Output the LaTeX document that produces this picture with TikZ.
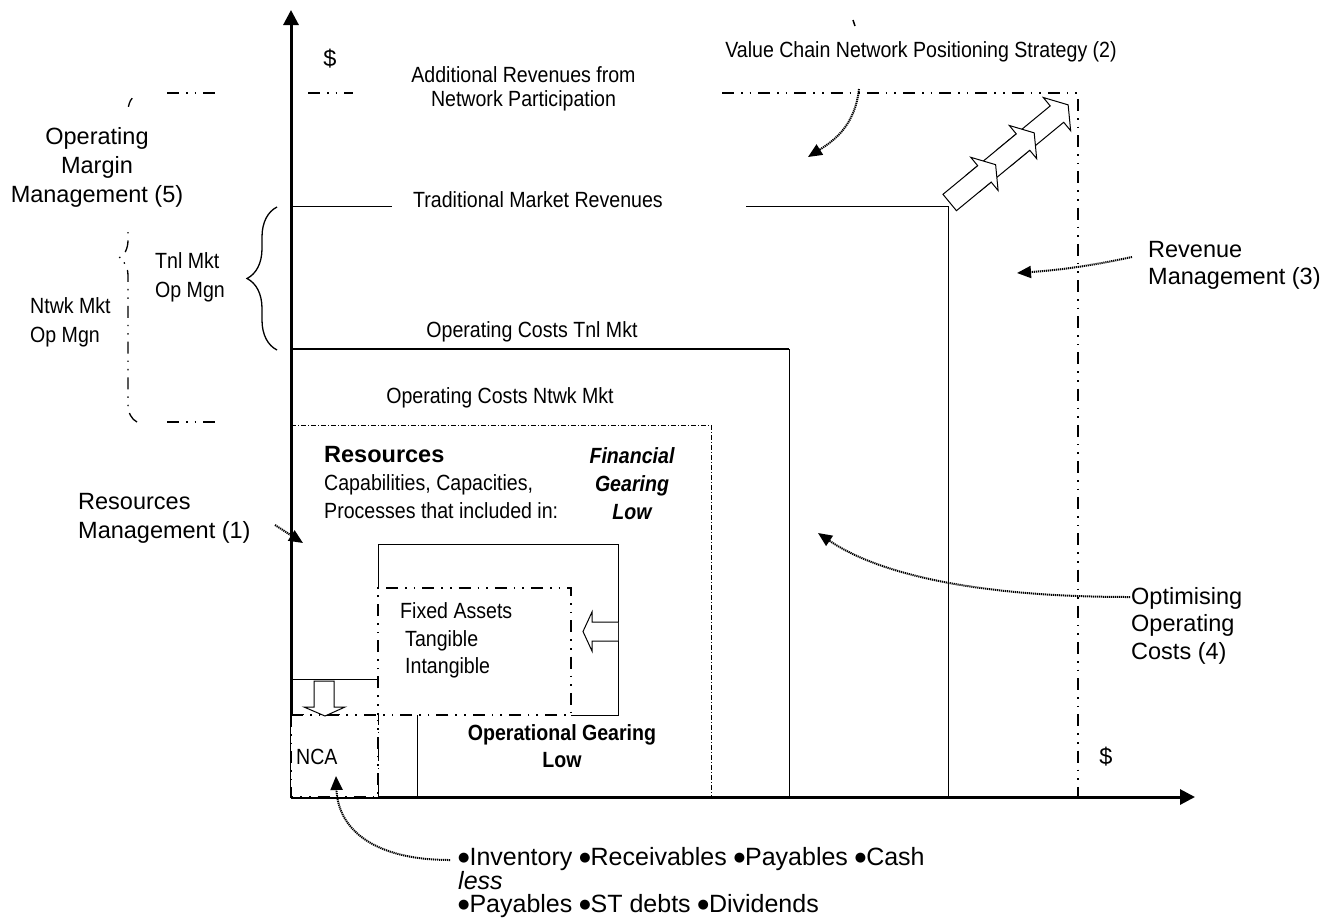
\documentclass[tikz,border=0pt]{standalone}
\usepackage{fontspec}
\setmainfont{Liberation Sans}
\newfontfamily\narrowfont[FakeStretch=0.89]{Liberation Sans}
\newfontfamily\bulletfont{DejaVu Sans}
\usetikzlibrary{arrows.meta,decorations.pathreplacing}

\newcommand{\bul}{\raisebox{4pt}{\bulletfont\fontsize{13}{13}\selectfont ●}}

\tikzset{
  regtext/.style={font=\fontsize{23.5}{29}\selectfont, inner sep=0pt},
  nartext/.style={font=\narrowfont\fontsize{22}{28}\selectfont, inner sep=0pt},
  listtext/.style={font=\fontsize{25}{25}\selectfont, inner sep=0pt, anchor=base west},
  axisline/.style={line width=3pt, -{Triangle[length=15pt,width=15pt]}},
  thinline/.style={line width=1pt},
  boldline/.style={line width=2pt},
  dashdotdot/.style={line width=2pt, dash pattern=on 12pt off 7pt on 1.6pt off 7pt on 1.6pt off 7pt},
  bracedash/.style={line width=1.3pt, dash pattern=on 12pt off 7pt on 1.4pt off 7pt on 1.4pt off 7pt},
  finedashdot/.style={line width=0.8pt, dash pattern=on 5pt off 2pt on 1pt off 2pt},
  dottedarrow/.style={line width=2pt, dash pattern=on 1.2pt off 0.8pt, -{Triangle[length=14pt,width=12pt]}},
  hollowarrow/.style={draw, line width=1pt, fill=white, line join=miter},
}

\begin{document}
\begin{tikzpicture}[x=1pt,y=-1pt]
\useasboundingbox (0,0) rectangle (1335,919);
\fill[white] (0,0) rectangle (1335,919);

% ---- key points ----
\coordinate (O) at (291,797);
\coordinate (ytop) at (291,10);
\coordinate (xend) at (1195,797);

% ---- network revenue frame (dash-dot) ----
\draw[dashdotdot] (722,93) -- (1078,93) -- (1078,797);
\draw[dashdotdot] (308,93) -- (353,93);
\draw[dashdotdot] (167,93) -- (221,93);
\draw[dashdotdot] (167,422) -- (221,422);
\draw[line width=1.5pt] (853,20) -- (855,26);

% ---- traditional market revenues ----
\draw[thinline] (291,206) -- (392,206);
\draw[thinline] (746,206) -- (948,206) -- (948,797);

% ---- operating costs, traditional market ----
\draw[boldline] (291,349) -- (789,349);
\draw[thinline] (789,349) -- (789,797);

% ---- operating costs, network market ----
\draw[finedashdot] (291,425) -- (711,425) -- (711,797);

% ---- resources block ----
\draw[thinline] (378,588) -- (378,544) -- (618,544) -- (618,715) -- (571,715);
\draw[dashdotdot] (378,797) -- (378,588) -- (571,588) -- (571,715) -- (291,715);
\draw[thinline] (417,715) -- (417,797);
\draw[thinline] (291,679) -- (378,679);

% ---- axes ----
\draw[axisline] (O) -- (ytop);
\draw[axisline] (O) -- (xend);

% ---- net current assets box ----
\draw[dashdotdot, fill=white] (291,715) rectangle (378,797);

% ---- hollow block arrows ----
\draw[hollowarrow] (618,622) -- (592,622) -- (592,612) -- (583,631.5) -- (592,651) -- (592,641) -- (618,641);
\draw[hollowarrow] (314,681) -- (334,681) -- (334,707) -- (345,707) -- (325,716) -- (304,707) -- (314,707) -- cycle;

% ---- chained growth arrow ----
\begin{scope}[shift={(949.7,202.5)}, rotate=39.5]
  \draw[hollowarrow] (70,-10.6) -- (139,-10.6) -- (139,-21.5) -- (153.5,0) -- (139,21.5) -- (139,10.6) -- (70,10.6) -- cycle;
  \draw[hollowarrow] (30,-10.6) -- (95,-10.6) -- (95,-21.5) -- (109.5,0) -- (95,21.5) -- (95,10.6) -- (30,10.6) -- cycle;
  \draw[hollowarrow] (0,-10.6) -- (45,-10.6) -- (45,-21.5) -- (59.5,0) -- (45,21.5) -- (45,10.6) -- (0,10.6) -- cycle;
\end{scope}

% ---- braces ----
\draw[line width=1.3pt, decorate, decoration={brace, amplitude=30pt}] (277,350) -- (277,207);
\draw[bracedash, decorate, decoration={brace, amplitude=18pt}] (137,422) -- (137,94);

% ---- labels ----
\node[regtext] (dollarTop) at (330,59) {\$};
\node[regtext] (dollarBot) at (1106,757) {\$};
\node[nartext, align=center, font=\narrowfont\fontsize{22}{24}\selectfont] (addRev) at (523.5,88.5) {Additional Revenues from\\Network Participation};
\node[nartext] (valueChain) at (921,52) {Value Chain Network Positioning Strategy (2)};
\node[nartext] (tradRev) at (538,200) {Traditional Market Revenues};
\node[nartext] (opTnl) at (532,332) {Operating Costs Tnl Mkt};
\node[nartext] (opNtwk) at (500,398) {Operating Costs Ntwk Mkt};
\node[regtext, align=center, fill=white, inner xsep=4pt, inner ysep=20pt] (margin) at (97,167) {Operating\\Margin\\Management (5)};
\node[nartext, align=left, anchor=west, font=\narrowfont\fontsize{22}{29}\selectfont] (tnlMgn) at (155,277.5) {Tnl Mkt\\Op Mgn};
\node[nartext, align=left, anchor=west, font=\narrowfont\fontsize{22}{29}\selectfont] (ntwkMgn) at (30,322.5) {Ntwk Mkt\\Op Mgn};
\node[regtext, align=left, anchor=west, font=\fontsize{23.5}{27}\selectfont] (revMgmt) at (1148,265.5) {Revenue\\Management (3)};
\node[regtext, align=left, anchor=west, font=\fontsize{23.5}{27.5}\selectfont] (optCost) at (1131,625.5) {Optimising\\Operating\\Costs (4)};
\node[regtext, align=left, anchor=west] (resMgmt) at (78,518.5) {Resources\\Management (1)};
\node[regtext, anchor=west, font=\bfseries\fontsize{23.5}{29}\selectfont] (resTitle) at (324,455) {Resources};
\node[nartext, align=left, anchor=west] (resBody) at (324,497) {Capabilities, Capacities,\\Processes that included in:};
\node[nartext, align=center, font=\narrowfont\bfseries\itshape\fontsize{22}{28}\selectfont] (finGear) at (632,483.5) {Financial\\Gearing\\Low};
\node[nartext, align=left, anchor=west, font=\narrowfont\fontsize{22}{27.5}\selectfont] (fixedA) at (400,640.5) {Fixed Assets\\\hspace*{5pt}Tangible\\\hspace*{5pt}Intangible};
\node[nartext, align=center, font=\narrowfont\bfseries\fontsize{22}{27}\selectfont] (opGear) at (562,746.5) {Operational Gearing\\Low};
\node[nartext, anchor=west] (nca) at (296,757) {NCA};
\node[listtext] (wcPlus) at (458,865) {\bul Inventory \bul Receivables \bul Payables \bul Cash};
\node[listtext, font=\itshape\fontsize{25}{25}\selectfont] (wcLess) at (458,889) {less};
\node[listtext] (wcMinus) at (458,912) {\bul Payables \bul ST debts \bul Dividends};

% ---- curved pointer arrows ----
\coordinate (vcStart) at (859,89);
\coordinate (vcEnd) at (808,157);
\coordinate (revStart) at (1132,257);
\coordinate (revEnd) at (1017,273);
\coordinate (optStart) at (1130,597);
\coordinate (optEnd) at (818,533);
\coordinate (resStart) at (275,525);
\coordinate (resEnd) at (303,543);
\coordinate (wcStart) at (450,860);
\coordinate (wcEnd) at (336,776);
\draw[dottedarrow] (vcStart) .. controls (855,125) and (835,140) .. (vcEnd);
\draw[dottedarrow] (revStart) .. controls (1090,266) and (1060,270) .. (revEnd);
\draw[dottedarrow] (optStart) .. controls (980,597) and (880,575) .. (optEnd);
\draw[dottedarrow] (resStart) -- (resEnd);
\draw[dottedarrow] (wcStart) .. controls (375,860) and (338,830) .. (wcEnd);
\end{tikzpicture}
\end{document}
